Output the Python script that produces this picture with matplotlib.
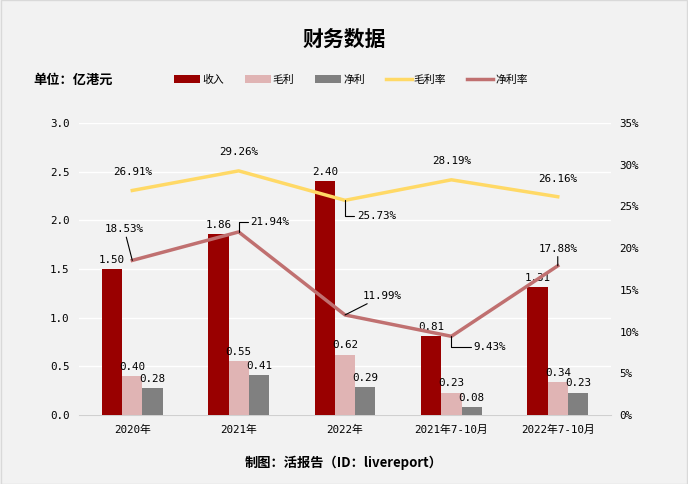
# 财务数据 chart: revenue / gross profit / net profit bars + margin lines

import matplotlib
matplotlib.use("Agg")
import matplotlib.pyplot as plt
from matplotlib.patches import Rectangle
import numpy as np

plt.rcParams['font.family'] = ['Noto Sans CJK SC', 'DejaVu Sans']
NUM_FONT = ['DejaVu Sans Mono', 'Noto Sans CJK SC']
FS = 7.8

# === Data ===
categories = ["2020年", "2021年", "2022年", "2021年7-10月", "2022年7-10月"]
revenue = [1.50, 1.86, 2.40, 0.81, 1.31]
gross_profit = [0.40, 0.55, 0.62, 0.23, 0.34]
net_profit = [0.28, 0.41, 0.29, 0.08, 0.23]
gross_margin = [26.91, 29.26, 25.73, 28.19, 26.16]
net_margin = [18.53, 21.94, 11.99, 9.43, 17.88]

# colours
c_rev = "#990000"
c_gp = "#e0b4b4"
c_np = "#808080"
c_gm = "#ffd966"
c_nm = "#c07070"
bg = "#f2f2f2"

fig = plt.figure(figsize=(6.88, 4.84), dpi=100, facecolor=bg)
fig.patches.append(Rectangle((0.001, 0.001), 0.998, 0.998, transform=fig.transFigure,
                             fill=False, edgecolor="#d9d9d9", lw=1))
ax = fig.add_axes([0.115, 0.1426, 0.773, 0.6033])
ax.set_facecolor(bg)

x = np.arange(len(categories))
w = 0.19

b1 = ax.bar(x - w, revenue, w, color=c_rev, label="收入", zorder=3)
b2 = ax.bar(x, gross_profit, w, color=c_gp, label="毛利", zorder=3)
b3 = ax.bar(x + w, net_profit, w, color=c_np, label="净利", zorder=3)

for bars, vals in [(b1, revenue), (b2, gross_profit), (b3, net_profit)]:
    for rect, v in zip(bars, vals):
        ax.annotate(f"{v:.2f}", (rect.get_x() + rect.get_width() / 2, v),
                    xytext=(0, 3), textcoords="offset points",
                    ha="center", va="bottom", fontsize=FS, family=NUM_FONT, zorder=6)

ax.set_xlim(-0.5, len(categories) - 0.5)
ax.set_ylim(0, 3.0)
ax.set_yticks(np.arange(0, 3.01, 0.5))
ax.set_yticklabels([f"{t:.1f}" for t in np.arange(0, 3.01, 0.5)], family=NUM_FONT, fontsize=FS)
ax.set_xticks(x)
ax.set_xticklabels(categories, family=NUM_FONT, fontsize=FS)
ax.grid(axis="y", color="white", linewidth=1, zorder=0)
for s in ["top", "right", "left"]:
    ax.spines[s].set_visible(False)
ax.spines["bottom"].set_color("#d0d0d0")
ax.tick_params(length=0, pad=7)

# === Right axis: margins ===
ax2 = ax.twinx()
ax2.set_ylim(0, 35)
ax2.set_yticks(range(0, 36, 5))
ax2.set_yticklabels([f"{t}%" for t in range(0, 36, 5)], family=NUM_FONT, fontsize=FS)
for s in ax2.spines.values():
    s.set_visible(False)
ax2.tick_params(length=0, pad=6)

l1, = ax2.plot(x, gross_margin, color=c_gm, lw=2.5, label="毛利率", zorder=4)
l2, = ax2.plot(x, net_margin, color=c_nm, lw=2.5, label="净利率", zorder=4)

px = 0.72  # points per pixel
lead = dict(arrowstyle="-", color="black", lw=0.8, shrinkA=0, shrinkB=0)

# label offsets in px: (dx, dy, ha, leader style)
gm_off = [(0, 18, "center", None), (0, 19, "center", None),
          (12, -16, "left", "angle,angleA=0,angleB=90,rad=0"),
          (0, 19, "center", None), (0, 18, "center", None)]
nm_off = [(-8, 31, "center", "arc3"), (12, 10, "left", "angle,angleA=0,angleB=90,rad=0"),
          (18, 19, "left", "arc3"), (22, -11, "left", "angle,angleA=0,angleB=90,rad=0"),
          (0, 17, "center", "arc3")]

for vals, offs in [(gross_margin, gm_off), (net_margin, nm_off)]:
    for i, (v, (dx, dy, ha, cs)) in enumerate(zip(vals, offs)):
        kw = {}
        if cs is not None:
            kw["arrowprops"] = dict(lead, connectionstyle=cs)
        ax2.annotate(f"{v:.2f}%", (x[i], v), xytext=(dx * px, dy * px),
                     textcoords="offset points", ha=ha, va="center",
                     fontsize=FS, family=NUM_FONT, zorder=6, **kw)

# === Titles / legend ===
fig.text(0.5, 0.918, "财务数据", ha="center", va="center", fontsize=15, fontweight="bold")
fig.text(0.048, 0.835, "单位：亿港元", ha="left", va="center", fontsize=9.5, fontweight="bold")
fig.text(0.5, 0.043, "制图：活报告（ID：livereport）", ha="center", va="center",
         fontsize=9.5, fontweight="bold")

fig.legend(handles=[b1, b2, b3, l1, l2], loc="center", bbox_to_anchor=(0.51, 0.835),
           ncol=5, frameon=False, fontsize=FS, handlelength=2.4, handleheight=0.8,
           columnspacing=1.9, handletextpad=0.2)

fig.savefig("out.png", dpi=100, facecolor=bg)
